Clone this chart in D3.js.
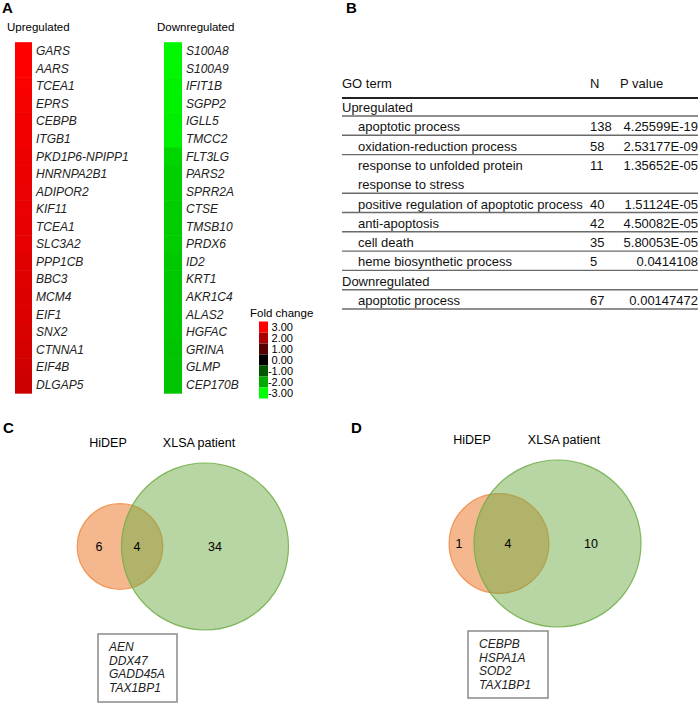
<!DOCTYPE html>
<html><head><meta charset="utf-8">
<script src="https://cdn.jsdelivr.net/npm/d3@7"></script>
<style>
body{margin:0;background:#fff;}
svg{display:block;font-family:"Liberation Sans",Arial,sans-serif;}
</style></head>
<body>
<script>
// ---------- DATA ----------
const upGenes = ["GARS","AARS","TCEA1","EPRS","CEBPB","ITGB1","PKD1P6-NPIPP1","HNRNPA2B1","ADIPOR2","KIF11","TCEA1","SLC3A2","PPP1CB","BBC3","MCM4","EIF1","SNX2","CTNNA1","EIF4B","DLGAP5"];
const upValues = [3.0,3.0,2.95,2.9,2.85,2.85,2.8,2.8,2.75,2.75,2.7,2.7,2.65,2.65,2.6,2.6,2.55,2.5,2.45,2.4];
const downGenes = ["S100A8","S100A9","IFIT1B","SGPP2","IGLL5","TMCC2","FLT3LG","PARS2","SPRR2A","CTSE","TMSB10","PRDX6","ID2","KRT1","AKR1C4","ALAS2","HGFAC","GRINA","GLMP","CEP170B"];
const downValues = [-2.9,-2.9,-2.85,-2.85,-2.8,-2.8,-2.5,-2.45,-2.45,-2.4,-2.4,-2.4,-2.35,-2.35,-2.35,-2.35,-2.35,-2.3,-2.3,-2.3];
const legendTicks = [3,2,1,0,-1,-2,-3];

const goTerms = ["GO term","Upregulated","apoptotic process","oxidation-reduction process","response to unfolded protein","response to stress","positive regulation of apoptotic process","anti-apoptosis","cell death","heme biosynthetic process","Downregulated","apoptotic process"];
const goN     = ["N","","138","58","11","","40","42","35","5","","67"];
const goP     = ["P value","","4.25599E-19","2.53177E-09","1.35652E-05","","1.51124E-05","4.50082E-05","5.80053E-05","0.0414108","","0.00147472"];
const goIndent = [0,0,1,1,1,1,1,1,1,1,0,1];
const goRule   = [2,1,1,1,0,1,1,1,1,1,1,1];

const vennSets = ["HiDEP","XLSA patient"];
const vennC = {only1:6, both:4, only2:34, genes:["AEN","DDX47","GADD45A","TAX1BP1"]};
const vennD = {only1:1, both:4, only2:10, genes:["CEBPB","HSPA1A","SOD2","TAX1BP1"]};

// ---------- SVG ----------
const W=700,H=703;
const svg=d3.select("body").append("svg").attr("width",W).attr("height",H);

const panelLabels=[["A",2,13],["B",346,13],["C",3,433],["D",351,433]];
svg.selectAll("text.plabel").data(panelLabels).join("text").attr("class","plabel")
  .attr("x",d=>d[1]).attr("y",d=>d[2]).text(d=>d[0])
  .attr("font-size",15).attr("font-weight","bold");

// ---------- Panel A ----------
const color=d3.scaleLinear().domain([-3,0,3]).range(["#00ff00","#000000","#ff0000"]).clamp(true);
const rowY=d3.scaleBand().domain(d3.range(20)).range([42.2,393.2]);

function heatCol(genes,vals,x0,x1,title,tx){
  const g=svg.append("g");
  g.append("text").attr("x",tx).attr("y",31).attr("font-size",11.5).text(title);
  g.selectAll("rect").data(vals).join("rect")
    .attr("x",x0).attr("width",x1-x0)
    .attr("y",(d,i)=>rowY(i)).attr("height",rowY.bandwidth()+0.5)
    .attr("fill",d=>color(d));
  g.selectAll("text.gene").data(genes).join("text").attr("class","gene")
    .attr("x",x1+4).attr("y",(d,i)=>rowY(i)+rowY.bandwidth()/2)
    .attr("dy","0.36em").attr("font-size",12).attr("font-style","italic").attr("fill","#222")
    .text(d=>d);
}
heatCol(upGenes,upValues,15,32,"Upregulated",7);
heatCol(downGenes,downValues,164,182,"Downregulated",157);

// legend
const lg=svg.append("g");
lg.append("text").attr("x",250).attr("y",317).attr("font-size",11.5).text("Fold change");
const ly=d3.scaleLinear().domain([3,-3]).range([327,393]);
lg.selectAll("rect").data(legendTicks).join("rect")
  .attr("x",259).attr("width",9).attr("y",d=>ly(d)-5.5).attr("height",11)
  .attr("fill",d=>color(d));
lg.selectAll("text.tick").data(legendTicks).join("text").attr("class","tick")
  .attr("x",293).attr("y",d=>ly(d)).attr("dy","0.35em").attr("text-anchor","end")
  .attr("font-size",11).text(d=>d3.format(".2f")(d).replace("\u2212","-"));

// ---------- Panel B ----------
const tb=svg.append("g").attr("font-size",13).attr("fill","#111");
const lineY=i=> i===0?98:116+(i-1)*19.3;
const tx0=342, tx1=698;
goTerms.forEach((t,i)=>{
  const y=i===0?88:lineY(i)-4;
  tb.append("text").attr("x",goIndent[i]?358:tx0).attr("y",y).text(t);
  if(goN[i]) tb.append("text").attr("x",590).attr("y",y).text(goN[i]);
  if(goP[i]) tb.append("text").attr("x",i===0?620:698).attr("y",y)
      .attr("text-anchor",i===0?"start":"end").text(goP[i]);
  if(goRule[i]) tb.append("line").attr("x1",tx0).attr("x2",tx1)
      .attr("y1",lineY(i)).attr("y2",lineY(i))
      .attr("stroke",goRule[i]===2?"#222":"#6a6a6a").attr("stroke-width",goRule[i]===2?2:1.4);
});

// ---------- Venns ----------
function venn(data,cx2,cy,dist,labelX1,labelX2,numX,box){
  const g=svg.append("g");
  const t1=data.only1+data.both, t2=data.only2+data.both;
  const r=d3.scaleSqrt().domain([0,Math.max(t1,t2)]).range([0,83.5]);
  const cx1=cx2-dist;
  g.append("circle").attr("cx",cx1).attr("cy",cy).attr("r",r(t1))
    .attr("fill","#ed7d31").attr("fill-opacity",0.55)
    .attr("stroke","#ed7d31").attr("stroke-opacity",0.75).attr("stroke-width",1.2);
  g.append("circle").attr("cx",cx2).attr("cy",cy).attr("r",r(t2))
    .attr("fill","#70ad47").attr("fill-opacity",0.5)
    .attr("stroke","#70ad47").attr("stroke-opacity",0.85).attr("stroke-width",1.2);
  g.append("text").attr("x",labelX1).attr("y",cy-100).attr("text-anchor","middle").attr("font-size",12.5).text(vennSets[0]);
  g.append("text").attr("x",labelX2).attr("y",cy-100).attr("text-anchor","middle").attr("font-size",12.5).text(vennSets[1]);
  [data.only1,data.both,data.only2].forEach((v,i)=>{
    g.append("text").attr("x",numX[i]).attr("y",cy).attr("dy","0.36em")
      .attr("text-anchor","middle").attr("font-size",12.5).text(v);
  });
  g.append("rect").attr("x",box[0]).attr("y",box[1]).attr("width",box[2]).attr("height",box[3])
    .attr("fill","#fff").attr("stroke","#8a8a8a").attr("stroke-width",1.5);
  g.selectAll("text.bg").data(data.genes).join("text").attr("class","bg")
    .attr("x",box[0]+11).attr("y",(d,i)=>box[1]+17+i*13.6)
    .attr("font-size",12).attr("font-style","italic").attr("fill","#222").text(d=>d);
}
venn(vennC,205,546.5,85,108,199,[99,137,215],[98,634,79,68]);
venn(vennD,557.5,543.5,58.5,472,564,[459,508,591],[468,631,80,67]);
</script>
</body></html>
